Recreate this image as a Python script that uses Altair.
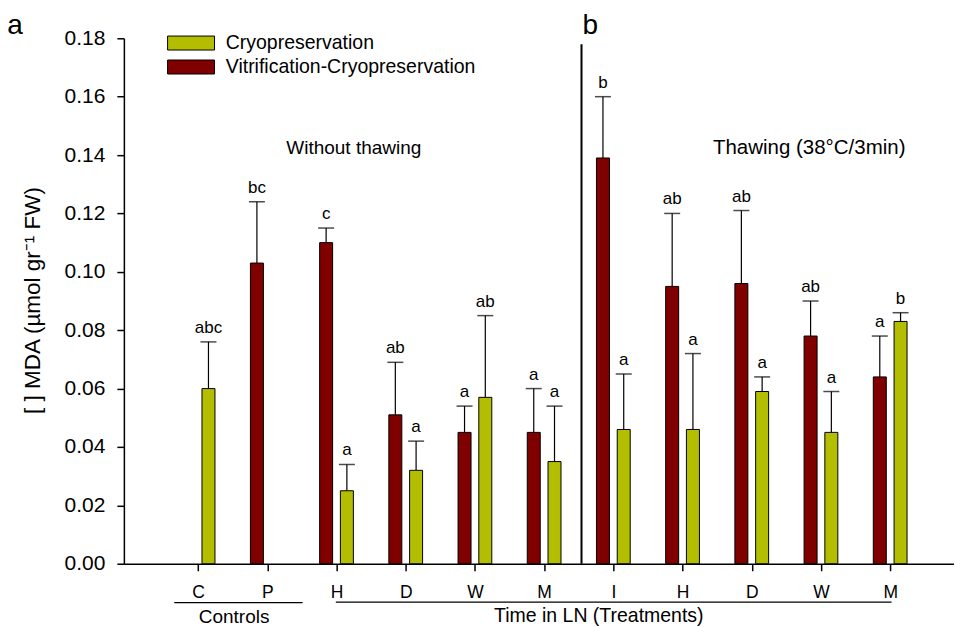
import json
import altair as alt
import pandas as pd

# ---------------- data ----------------
categories = ["C", "P", "H", "D", "W", "M", "I", "H", "D", "W", "M"]
series_names = ["Cryopreservation", "Vitrification-Cryopreservation"]

cryo_mean = [0.060, None, 0.025, 0.032, 0.057, 0.035, 0.046, 0.046, 0.059, 0.045, 0.083]
cryo_upper = [0.076, None, 0.034, 0.042, 0.085, 0.054, 0.065, 0.072, 0.064, 0.059, 0.086]
cryo_letters = ["abc", None, "a", "a", "ab", "a", "a", "a", "a", "a", "b"]

vitri_mean = [None, 0.103, 0.110, 0.051, 0.045, 0.045, 0.139, 0.095, 0.096, 0.078, 0.064]
vitri_upper = [None, 0.124, 0.115, 0.069, 0.054, 0.060, 0.160, 0.120, 0.121, 0.090, 0.078]
vitri_letters = [None, "bc", "c", "ab", "a", "a", "b", "ab", "ab", "ab", "a"]

y_ticks = [0.00, 0.02, 0.04, 0.06, 0.08, 0.10, 0.12, 0.14, 0.16, 0.18]

GREEN = "#b4be00"
RED = "#800000"
FONT = "Liberation Sans"

rows = []
for i, cat in enumerate(categories):
    for name, means, uppers, letters, side in (
        (series_names[1], vitri_mean, vitri_upper, vitri_letters, -1),
        (series_names[0], cryo_mean, cryo_upper, cryo_letters, 1),
    ):
        if means[i] is None:
            continue
        rows.append({"slot": i + 1, "side": side, "series": name,
                     "mean": means[i], "upper": uppers[i], "letter": letters[i]})
df = pd.DataFrame(rows)

x_scale = alt.Scale(domain=[0, 11.85], nice=False, zero=False)
y_scale = alt.Scale(domain=[0, 0.18], nice=False)

base = alt.Chart(df).transform_calculate(xpos="datum.slot + datum.side * 0.15")

label_expr = json.dumps(categories) + "[datum.value - 1]"

bars = base.mark_bar(size=13, stroke="black", strokeWidth=1, orient="vertical").encode(
    x=alt.X("xpos:Q", scale=x_scale,
            axis=alt.Axis(values=list(range(1, 12)), labelExpr=label_expr, title=None,
                          labelFontSize=17.5, labelPadding=13, tickSize=7)),
    y=alt.Y("mean:Q", scale=y_scale,
            axis=alt.Axis(values=y_ticks, format=".2f",
                          title="[ ] MDA (µmol gr⁻¹ FW)",
                          titleAngle=270, titleX=-91, titleY=262,
                          titleAlign="center", titleBaseline="middle",
                          titleFontSize=22.5, titleFontWeight="normal",
                          labelFontSize=21, labelPadding=12, tickSize=7)),
    color=alt.Color("series:N",
                    scale=alt.Scale(domain=series_names, range=[GREEN, RED]),
                    legend=alt.Legend(title=None, orient="none", legendX=57.5, legendY=-5,
                                      symbolType="M-3.357,-1L3.357,-1L3.357,1L-3.357,1Z",
                                      symbolSize=196, symbolStrokeColor="black",
                                      symbolStrokeWidth=1, symbolOpacity=1,
                                      labelFontSize=19.5, labelFont=FONT, labelColor="black",
                                      labelLimit=0, labelOffset=25, rowPadding=3, padding=0)),
)

err_rule = base.mark_rule(color="black", strokeWidth=1.2).encode(
    x="xpos:Q", y="mean:Q", y2="upper:Q")
err_cap = base.mark_tick(orient="horizontal", size=16, thickness=1.5, color="black").encode(
    x="xpos:Q", y="upper:Q")
letters = base.mark_text(dy=-9, baseline="alphabetic", fontSize=17, font=FONT, color="black").encode(
    x="xpos:Q", y="upper:Q", text="letter:N")

one = alt.Data(values=[{}])

divider = alt.Chart(one).mark_rule(color="black", strokeWidth=2).encode(
    x=alt.datum(6.54), y=alt.datum(0.0), y2=alt.datum(0.178))

txt_without = alt.Chart(one).mark_text(text="Without thawing", fontSize=19, font=FONT,
                                       baseline="alphabetic", color="black").encode(
    x=alt.datum(3.25), y=alt.datum(0.1404))
txt_thaw = alt.Chart(one).mark_text(text="Thawing (38°C/3min)", fontSize=20.5, font=FONT,
                                    baseline="alphabetic", color="black").encode(
    x=alt.datum(9.83), y=alt.datum(0.1404))

panel_a = alt.Chart(one).mark_text(text="a", fontSize=28, font=FONT, baseline="alphabetic",
                                   color="black").encode(x=alt.value(-109), y=alt.value(-4))
panel_b = alt.Chart(one).mark_text(text="b", fontSize=28, font=FONT, baseline="alphabetic",
                                   color="black").encode(x=alt.value(467), y=alt.value(-4))

ctrl_line = alt.Chart(one).mark_rule(color="black", strokeWidth=1.2).encode(
    x=alt.datum(0.656), x2=alt.datum(2.51), y=alt.value(565))
ctrl_txt = alt.Chart(one).mark_text(text="Controls", fontSize=19, font=FONT,
                                    baseline="alphabetic", color="black").encode(
    x=alt.datum(1.52), y=alt.value(585))
trt_line = alt.Chart(one).mark_rule(color="black", strokeWidth=1.2).encode(
    x=alt.datum(2.99), x2=alt.datum(11.02), y=alt.value(564.5))
trt_txt = alt.Chart(one).mark_text(text="Time in LN (Treatments)", fontSize=19.5, font=FONT,
                                   baseline="alphabetic", color="black").encode(
    x=alt.datum(6.79), y=alt.value(584))

chart = alt.layer(
    err_rule, err_cap, bars, letters, divider, txt_without, txt_thaw,
    panel_a, panel_b, ctrl_line, ctrl_txt, trt_line, trt_txt,
).properties(
    width=831, height=526,
    autosize=alt.AutoSizeParams(type="none"),
    padding={"left": 116, "top": 30, "right": 0, "bottom": 62},
).configure_view(stroke=None).configure_axis(
    domainColor="black", domainWidth=1.5, tickColor="black", tickWidth=1.5,
    labelColor="black", titleColor="black", grid=False,
    labelFont=FONT, titleFont=FONT,
)

chart.save("out.html", embed_options={"renderer": "svg", "actions": False})
